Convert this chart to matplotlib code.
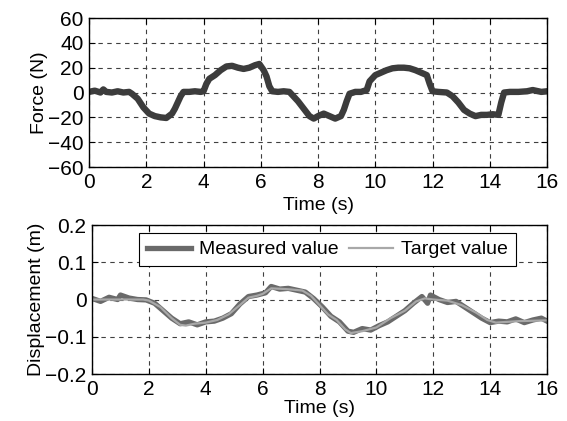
import numpy as np
import matplotlib
matplotlib.use("Agg")
import matplotlib.pyplot as plt

plt.rcParams['font.family'] = ['Liberation Sans', 'DejaVu Sans']
plt.rcParams['font.size'] = 14
plt.rcParams['axes.unicode_minus'] = True

# Force (N)
force_t = [0.0, 0.2, 0.4, 0.5, 0.6, 0.8, 1.0, 1.2, 1.4, 1.5, 1.7, 1.9, 2.1, 2.3, 2.5,
           2.7, 2.9, 3.0, 3.1, 3.2, 3.3, 3.5, 3.7, 3.9, 4.0, 4.1, 4.2, 4.4, 4.6, 4.8,
           5.0, 5.2, 5.4, 5.6, 5.8, 5.95, 6.1, 6.2, 6.3, 6.4, 6.6, 6.8, 7.0, 7.1, 7.3,
           7.5, 7.7, 7.85, 8.0, 8.2, 8.4, 8.6, 8.8, 8.9, 9.0, 9.1, 9.3, 9.5, 9.7, 9.8,
           10.0, 10.2, 10.4, 10.6, 10.8, 11.0, 11.2, 11.4, 11.6, 11.8, 11.9, 12.0, 12.2,
           12.5, 12.7, 12.9, 13.1, 13.3, 13.5, 13.7, 13.9, 14.1, 14.3, 14.4, 14.5, 14.7,
           15.0, 15.3, 15.5, 15.8, 16.0]
force_v = [0.5, 1.5, 0.0, 2.5, 0.5, 0.0, 1.0, 0.0, 0.5, -1.0, -5.0, -12.0, -17.0, -19.0, -20.0,
           -20.5, -17.0, -13.0, -8.0, -3.0, 0.5, 0.5, 1.0, 0.5, 1.0, 7.0, 11.0, 14.0, 18.0, 21.0,
           21.5, 20.0, 19.0, 20.0, 22.0, 23.0, 18.0, 13.0, 5.0, 1.0, 0.5, 1.0, 0.5, -2.0, -7.0,
           -13.0, -19.0, -21.0, -19.0, -17.0, -19.0, -21.0, -19.0, -14.0, -7.0, -1.0, 0.5, 0.5, 2.0, 9.0,
           14.0, 16.0, 18.0, 19.5, 20.0, 20.0, 19.5, 18.0, 16.0, 14.0, 7.0, 1.0, 0.5,
           0.0, -3.0, -8.0, -14.0, -17.0, -19.0, -18.0, -18.0, -17.5, -18.0, -8.0, 0.0, 0.5,
           0.5, 1.0, 2.0, 0.5, 1.0]

# Displacement (m), target trajectory
disp_t = [0.0, 1.0, 1.8, 2.0, 2.4, 2.8, 3.1, 3.3, 3.6, 4.0, 4.4, 4.8, 5.2, 5.5, 5.8, 6.0,
          6.3, 6.6, 7.0, 7.4, 7.7, 8.0, 8.3, 8.6, 8.9, 9.1, 9.5, 10.0, 10.5, 11.0, 11.4,
          11.7, 12.0, 12.5, 13.0, 13.5, 13.9, 14.2, 14.6, 15.0, 16.0]
target_v = [0.0, 0.0, 0.0, -0.003, -0.02, -0.05, -0.068, -0.07, -0.065, -0.062, -0.055, -0.04,
            -0.015, 0.005, 0.01, 0.015, 0.03, 0.029, 0.027, 0.024, 0.01, -0.015, -0.04, -0.055,
            -0.08, -0.09, -0.085, -0.075, -0.05, -0.03, -0.005, 0.003, 0.0, -0.003, -0.015,
            -0.035, -0.055, -0.062, -0.06, -0.058, -0.056]

# Displacement (m), measured
meas_t = [0.0, 0.3, 0.6, 0.9, 1.0, 1.3, 1.6, 1.9, 2.2, 2.5, 2.8, 3.1, 3.4, 3.7, 4.0, 4.3,
          4.6, 4.9, 5.2, 5.5, 5.8, 6.1, 6.3, 6.6, 6.9, 7.2, 7.5, 7.8, 8.1, 8.4, 8.7, 9.0,
          9.2, 9.5, 9.8, 10.1, 10.4, 10.7, 11.0, 11.3, 11.6, 11.8, 11.9, 12.2, 12.5, 12.8,
          13.1, 13.4, 13.7, 14.0, 14.3, 14.6, 14.9, 15.2, 15.5, 15.8, 16.0]
meas_v = [0.003, -0.005, 0.006, 0.0, 0.012, 0.004, 0.0, -0.001, -0.01, -0.03, -0.05, -0.065,
          -0.06, -0.068, -0.06, -0.058, -0.05, -0.038, -0.012, 0.008, 0.012, 0.018, 0.035, 0.028,
          0.03, 0.025, 0.02, 0.002, -0.02, -0.045, -0.06, -0.085, -0.088, -0.078, -0.082,
          -0.07, -0.06, -0.045, -0.03, -0.01, 0.008, -0.01, 0.012, 0.0, -0.008, -0.005, -0.02,
          -0.035, -0.05, -0.062, -0.058, -0.06, -0.052, -0.062, -0.055, -0.05, -0.058]

xticks = [0, 2, 4, 6, 8, 10, 12, 14, 16]


def style_axes(ax):
    ax.grid(True, color="0.25", linestyle=(0, (4, 4)), linewidth=0.8)
    ax.tick_params(direction="in", top=True, right=True, length=4, labelsize=15, pad=4)
    for s in ax.spines.values():
        s.set_linewidth(1.0)
        s.set_color("black")
    ax.set_xlim(0, 16)
    ax.set_xticks(xticks)


fig = plt.figure(figsize=(5.67, 4.21), dpi=100)

ax1 = fig.add_axes([0.157, 0.6033, 0.8078, 0.3539])
ax1.plot(force_t, force_v, color="#3c3c3c", linewidth=4.6, solid_joinstyle="round")
style_axes(ax1)
ax1.set_ylim(-60, 60)
ax1.set_yticks([-60, -40, -20, 0, 20, 40, 60])
ax1.set_ylabel("Force (N)", fontsize=14, labelpad=0)
ax1.set_xlabel("Time (s)", fontsize=14, labelpad=4)

ax2 = fig.add_axes([0.1623, 0.1116, 0.8025, 0.3539])
ax2.plot(meas_t, meas_v, color="#6a6a6a", linewidth=3.8, label="Measured value")
ax2.plot(disp_t, target_v, color="#a8a8a8", linewidth=1.6, label="Target value")
style_axes(ax2)
ax2.set_ylim(-0.2, 0.2)
ax2.set_yticks([-0.2, -0.1, 0, 0.1, 0.2])
ax2.set_yticklabels(["\u22120.2", "\u22120.1", "0", "0.1", "0.2"])
ax2.set_ylabel("Displacement (m)", fontsize=14, labelpad=0)
ax2.set_xlabel("Time (s)", fontsize=14, labelpad=1)
leg = ax2.legend(loc="upper left", bbox_to_anchor=(0.103, 0.946), ncol=2, fancybox=False,
                 framealpha=1, edgecolor="black", borderaxespad=0, handlelength=2.3,
                 columnspacing=0.5, handletextpad=0.4, borderpad=0.4, fontsize=14)
leg.get_frame().set_linewidth(0.8)

fig.savefig("out.png", dpi=100)
